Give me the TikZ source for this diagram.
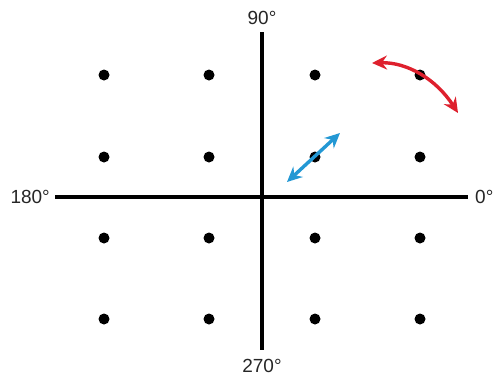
\documentclass[tikz,border=0pt]{standalone}
\usepackage{fontspec}
\setmainfont{Liberation Sans}
\usetikzlibrary{arrows.meta}
\definecolor{redarr}{RGB}{222,32,45}
\definecolor{bluearr}{RGB}{35,152,212}
\begin{document}
\begin{tikzpicture}[x=1pt,y=-1pt,
  dot/.style={circle,fill=black,inner sep=0pt,minimum size=11pt},
  axis/.style={line width=3.2pt},
  lab/.style={font=\fontsize{19}{22}\selectfont,text=black!85,inner sep=0pt},
  dbl/.style={line width=3.4pt,{Stealth[length=15pt,width=14pt,inset=5pt]}-{Stealth[length=15pt,width=14pt,inset=5pt]}}]
\useasboundingbox (0,0) rectangle (497,389);
\fill[white] (0,0) rectangle (497,389);
% axes
\coordinate (xl) at (55,197);
\coordinate (xr) at (468,197);
\coordinate (yt) at (262,32);
\coordinate (yb) at (262,350);
\draw[axis] (xl) -- (xr);
\draw[axis] (yt) -- (yb);
% labels
\node[lab,anchor=east] (l180) at (50,197) {180°};
\node[lab,anchor=west] (l0) at (475,197) {0°};
\node[lab] (l90) at (262,18) {90°};
\node[lab] (l270) at (262,366) {270°};
% dots
\foreach \i/\x in {1/104,2/209,3/315,4/420}{
  \foreach \j/\y in {1/75,2/157,3/238,4/319}{
    \node[dot] (d\i\j) at (\x,\y) {};
  }
}
% red arrow
\coordinate (ra) at (372,63);
\coordinate (rb) at (458,113);
\draw[dbl,redarr] (ra) .. controls (407,62) and (436,79) .. (rb);
% blue arrow
\coordinate (ba) at (287,182);
\coordinate (bb) at (340,133);
\draw[dbl,bluearr] (ba) -- (bb);
\end{tikzpicture}
\end{document}
